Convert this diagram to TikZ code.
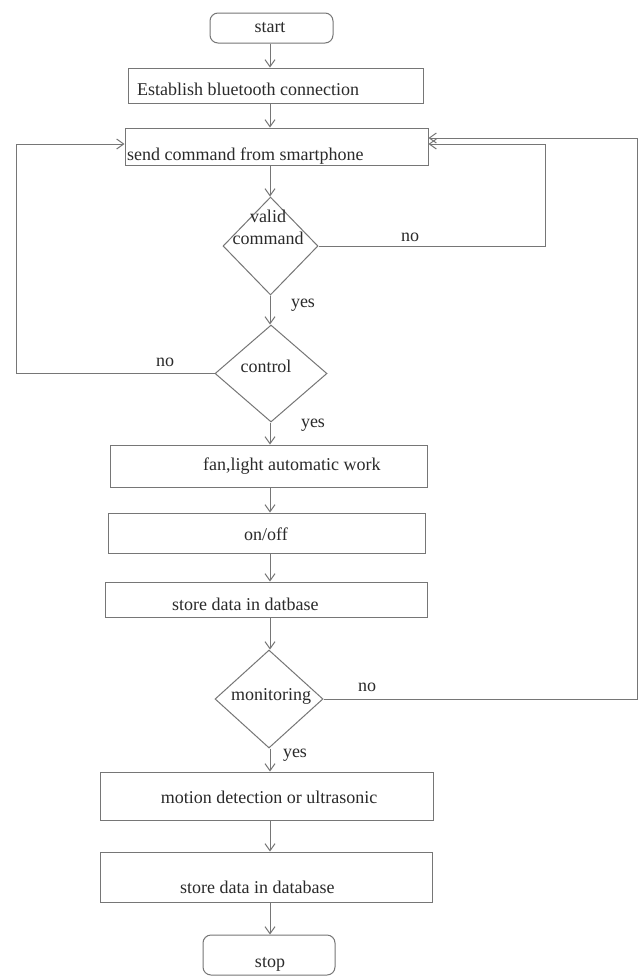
\documentclass[tikz,border=0pt]{standalone}
\usepackage{fontspec}
\setmainfont{Liberation Serif}
\usetikzlibrary{shapes.geometric,arrows.meta}
\definecolor{linec}{HTML}{767676}
\definecolor{textc}{HTML}{2A2A2A}
\tikzset{
  txt/.style={font=\fontsize{18}{22}\selectfont, text=textc, inner sep=0pt},
  box/.style={draw=linec, line width=1pt, inner sep=0pt, rectangle},
  term/.style={box, rounded corners=8pt},
  dec/.style={draw=linec, line width=1pt, diamond, inner sep=0pt},
  arr/.style={draw=linec, line width=1pt, -{Straight Barb[length=7pt,width=10pt]}},
  ln/.style={draw=linec, line width=1pt},
}
\begin{document}
\begin{tikzpicture}[x=1pt,y=-1pt]
\fill[white] (0,0) rectangle (643,978);
\useasboundingbox (0,0) rectangle (643,978);
\coordinate (spine) at (270,0);

% shapes
\node[term, minimum width=123pt, minimum height=30pt] (start) at (271.5,28) {};
\node[box, minimum width=295pt, minimum height=35pt] (est) at (275.5,85.5) {};
\node[box, minimum width=303pt, minimum height=37pt] (send) at (276.5,146.5) {};
\node[dec, minimum width=95pt, minimum height=98pt] (valid) at (270.5,246) {};
\node[dec, minimum width=112pt, minimum height=97pt] (control) at (271,373.5) {};
\node[box, minimum width=317pt, minimum height=42pt] (fan) at (268.5,466) {};
\node[box, minimum width=317pt, minimum height=40pt] (onoff) at (266.5,533) {};
\node[box, minimum width=322pt, minimum height=35pt] (store1) at (266,599.5) {};
\node[dec, minimum width=108pt, minimum height=98pt] (monitor) at (269,699) {};
\node[box, minimum width=333pt, minimum height=48pt] (motion) at (266.5,796) {};
\node[box, minimum width=332pt, minimum height=50pt] (store2) at (266,877) {};
\node[term, minimum width=132pt, minimum height=40pt] (stop) at (269,955) {};

% texts
\node[txt, anchor=base] (startt) at (270,32) {start};
\node[txt, anchor=base west] (estt) at (137,95) {Establish bluetooth connection};
\node[txt, anchor=base west] (sendt) at (127,160) {send command from smartphone};
\node[txt, align=center] (validt) at (268,227) {valid\\command};
\node[txt, anchor=base] (controlt) at (266,372) {control};
\node[txt, anchor=base west] (fant) at (203,470) {fan,light automatic work};
\node[txt, anchor=base] (onofft) at (266,540) {on/off};
\node[txt, anchor=base west] (store1t) at (172,610) {store data in datbase};
\node[txt, anchor=base] (monitort) at (271,700) {monitoring};
\node[txt, anchor=base] (motiont) at (269,803) {motion detection or ultrasonic};
\node[txt, anchor=base west] (store2t) at (180,893) {store data in database};
\node[txt, anchor=base] (stopt) at (270,967) {stop};

% labels
\node[txt] (no1) at (410,237) {no};
\node[txt] (yes1) at (303,305) {yes};
\node[txt] (no2) at (165,362) {no};
\node[txt] (yes2) at (313,425) {yes};
\node[txt] (no3) at (367,687) {no};
\node[txt] (yes3) at (295,755) {yes};

% main flow
\draw[arr] (start.south -| spine) -- (est.north -| spine);
\draw[arr] (est.south -| spine) -- (send.north -| spine);
\draw[arr] (send.south -| spine) -- (valid.north -| spine);
\draw[arr] (valid.south -| spine) -- (control.north -| spine);
\draw[arr] (control.south -| spine) -- (fan.north -| spine);
\draw[arr] (fan.south -| spine) -- (onoff.north -| spine);
\draw[arr] (onoff.south -| spine) -- (store1.north -| spine);
\draw[arr] (store1.south -| spine) -- (monitor.north -| spine);
\draw[arr] (monitor.south -| spine) -- (motion.north -| spine);
\draw[arr] (motion.south -| spine) -- (store2.north -| spine);
\draw[arr] (store2.south -| spine) -- (stop.north -| spine);

% loops
\coordinate (rv) at (545,144);
\coordinate (lc) at (16,144);
\coordinate (rm) at (637,138);
\draw[arr] (valid.east) -| (rv) -- (rv -| send.east);
\draw[arr] (control.west) -| (lc) -- (lc -| send.west);
\draw[arr] (monitor.east) -| (rm) -- (rm -| send.east);
\end{tikzpicture}
\end{document}
